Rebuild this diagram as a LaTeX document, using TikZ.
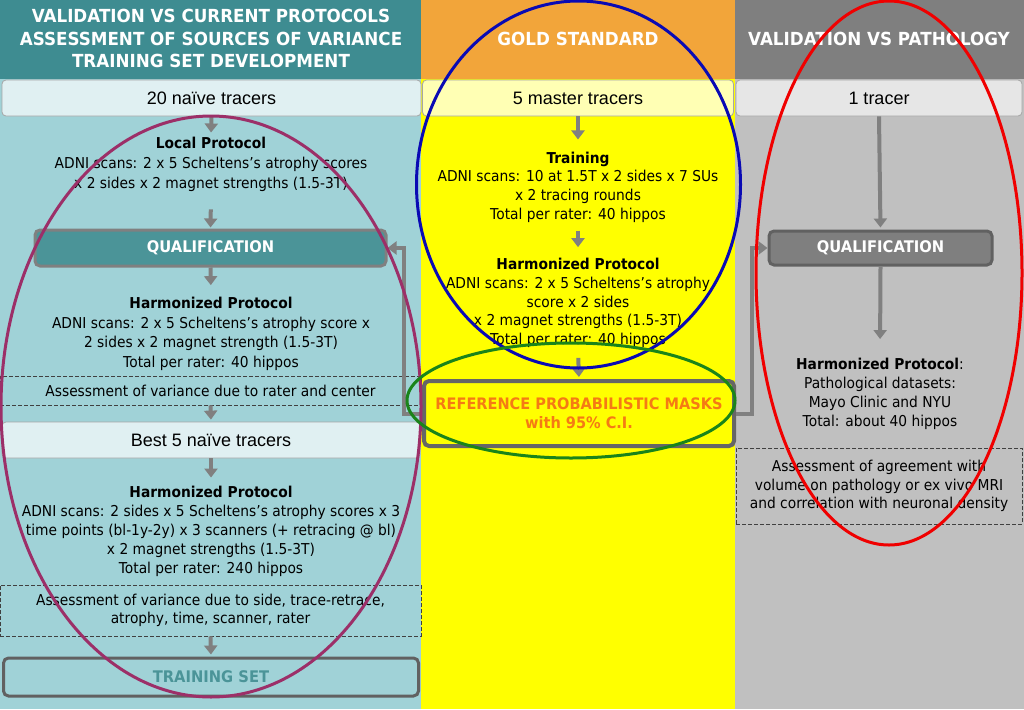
\documentclass[tikz,border=0pt]{standalone}
\usepackage{fontspec}
\setmainfont{DejaVu Sans}[FakeStretch=0.92]
\newfontfamily\hdrfont{DejaVu Sans}[FakeStretch=0.93]
\newfontfamily\arialf{Liberation Sans}
\usetikzlibrary{arrows.meta}
\definecolor{hdrL}{HTML}{3E8C91}
\definecolor{bodyL}{HTML}{A0D2D7}
\definecolor{barL}{HTML}{E0F0F2}
\definecolor{qualL}{HTML}{4B9498}
\definecolor{hdrM}{HTML}{F2A53A}
\definecolor{bodyM}{HTML}{FFFF00}
\definecolor{barM}{HTML}{FFFFB4}
\definecolor{hdrR}{HTML}{7F7F7F}
\definecolor{bodyR}{HTML}{C0C0C0}
\definecolor{barR}{HTML}{E6E6E6}
\definecolor{arrg}{HTML}{808080}
\definecolor{refor}{HTML}{F57A14}
\definecolor{ellP}{HTML}{9C2F68}
\definecolor{ellB}{HTML}{0A0AB4}
\definecolor{ellG}{HTML}{1A841A}
\definecolor{ellR}{HTML}{F00000}
\tikzset{
  hdr/.style={text=white, align=center, font={\hdrfont\bfseries\fontsize{18}{22.5}\selectfont}},
  bar/.style={draw=black!35, line width=0.8pt, rounded corners=4pt, font={\arialf\fontsize{18}{21}\selectfont}, inner sep=0pt},
  txt/.style={align=center, inner sep=3pt},
  dashbox/.style={draw=black!75, dashed, dash pattern=on 4pt off 2pt, line width=0.8pt, inner sep=0pt, align=center, font={\fontsize{15}{18.5}\selectfont}},
  qbox/.style={line width=3pt, rounded corners=5pt, text=white, font={\bfseries\fontsize{16}{18}\selectfont}, inner sep=0pt},
  arr/.style={draw=arrg, line width=4pt, -{Triangle[width=13pt,length=9pt]}},
  ell/.style={line width=3pt}
}
\begin{document}
\begin{tikzpicture}[x=1pt,y=-1pt]
\useasboundingbox (0,0) rectangle (1024,709);
% backgrounds
\fill[bodyL] (0,78) rectangle (421,709);
\fill[bodyM] (421,78) rectangle (735,709);
\fill[bodyR] (735,78) rectangle (1024,709);
\fill[hdrL] (0,0) rectangle (421,79);
\fill[hdrM] (421,0) rectangle (735,79);
\fill[hdrR] (735,0) rectangle (1024,79);
% headers
\node[hdr] (hL) at (211,38.5) {VALIDATION VS CURRENT PROTOCOLS\\ASSESSMENT OF SOURCES OF VARIANCE\\TRAINING SET DEVELOPMENT};
\node[hdr] (hM) at (578,38.5) {GOLD STANDARD};
\node[hdr] (hR) at (879,38.5) {VALIDATION VS PATHOLOGY};
% tracer bars
\node[bar, fill=barL, minimum width=419pt, minimum height=36pt] (tr20) at (211.5,98) {20 naïve tracers};
\node[bar, fill=barM, minimum width=311pt, minimum height=36pt] (tr5) at (578,98) {5 master tracers};
\node[bar, fill=barR, minimum width=286pt, minimum height=36pt] (tr1) at (879,98) {1 tracer};
% left column
\node[txt, font={\fontsize{15}{20}\selectfont}] (local) at (211,164) {\textbf{Local Protocol}\\ADNI scans: 2 x 5 Scheltens’s atrophy scores\\x 2 sides x 2 magnet strengths (1.5-3T)};
\node[qbox, draw=arrg, fill=qualL, minimum width=351pt, minimum height=36pt] (qualL) at (210.5,248) {QUALIFICATION};
\node[txt, font={\fontsize{15}{19.6}\selectfont}] (harm1) at (211,334) {\textbf{Harmonized Protocol}\\ADNI scans: 2 x 5 Scheltens’s atrophy score x\\2 sides x 2 magnet strength (1.5-3T)\\Total per rater: 40 hippos};
\node[dashbox, minimum width=421pt, minimum height=29pt] (ass1) at (210.5,390.5) {Assessment of variance due to rater and center};
\node[bar, fill=barL, minimum width=418pt, minimum height=36pt] (best5) at (211,440) {Best 5 naïve tracers};
\node[txt, font={\fontsize{15}{19}\selectfont}] (harm2) at (211,531) {\textbf{Harmonized Protocol}\\ADNI scans: 2 sides x 5 Scheltens’s atrophy scores x 3\\time points (bl-1y-2y) x 3 scanners (+ retracing @ bl)\\x 2 magnet strengths (1.5-3T)\\Total per rater: 240 hippos};
\node[dashbox, minimum width=421pt, minimum height=51pt] (ass2) at (210.5,610.5) {Assessment of variance due to side, trace-retrace,\\atrophy, time, scanner, rater};
\node[qbox, draw=black!62, fill=bodyL, text=qualL, minimum width=415pt, minimum height=38pt] (train) at (211,677) {TRAINING SET};
% middle column
\node[txt, font={\fontsize{15}{18.7}\selectfont}] (trn) at (578,187) {\textbf{Training}\\ADNI scans: 10 at 1.5T x 2 sides x 7 SUs\\x 2 tracing rounds\\Total per rater: 40 hippos};
\node[txt, font={\fontsize{15}{18.7}\selectfont}] (harmM) at (578,303) {\textbf{Harmonized Protocol}\\ADNI scans: 2 x 5 Scheltens’s atrophy\\score x 2 sides\\x 2 magnet strengths (1.5-3T)\\Total per rater: 40 hippos};
\node[qbox, draw=black!60, line width=4pt, fill=bodyM, text=refor, align=center, minimum width=310pt, minimum height=65pt, font={\bfseries\fontsize{15.8}{19}\selectfont}] (ref) at (579,413.5) {REFERENCE PROBABILISTIC MASKS\\with 95\% C.I.};
% right column
\node[qbox, draw=black!62, fill=hdrR, minimum width=223pt, minimum height=34pt] (qualR) at (880.5,248) {QUALIFICATION};
\node[txt, font={\fontsize{15}{19}\selectfont}] (harmR) at (880,394) {\textbf{Harmonized Protocol}:\\Pathological datasets:\\Mayo Clinic and NYU\\Total: about 40 hippos};
\node[dashbox, minimum width=286pt, minimum height=76pt] (assR) at (879,486) {Assessment of agreement with\\volume on pathology or ex vivo MRI\\and correlation with neuronal density};
% arrows
\draw[arr, shorten >=1pt] (tr20.south) -- (local.north);
\draw[arr, shorten <=15pt, shorten >=1pt] (local.south) -- (qualL.north);
\draw[arr, shorten >=9pt] (qualL.south) -- (harm1.north);
\draw[arr, shorten >=2pt] (ass1.south) -- (best5.north);
\draw[arr, shorten >=5pt] (best5.south) -- (harm2.north);
\draw[arr, shorten >=2pt] (ass2.south) -- (train.north);
\draw[arr, shorten >=9pt] (tr5.south) -- (trn.north);
\draw[arr, shorten <=5pt, shorten >=8pt] (trn.south) -- (harmM.north);
\draw[arr, shorten <=7pt, shorten >=2pt] (harmM.south) -- (ref.north);
\draw[arr, shorten >=2pt] (tr1.south) -- (qualR.north);
\draw[arr, shorten >=16pt] (qualR.south) -- (harmR.north);
% feedback connectors
\draw[arr, line join=miter] (ref.west) -| ([xshift=16pt]qualL.east) -- (qualL.east);
\draw[arr, line join=miter] (ref.east) -| ([xshift=-16pt]qualR.west) -- (qualR.west);
% ellipses
\draw[ell, ellP] (211,406.5) ellipse [x radius=210pt, y radius=290.5pt];
\draw[ell, ellB] (578.5,184.5) ellipse [x radius=162pt, y radius=183.5pt];
\draw[ell, ellG] (571,400.5) ellipse [x radius=164pt, y radius=57.5pt];
\draw[ell, ellR] (889,273) ellipse [x radius=133pt, y radius=272pt];
\end{tikzpicture}
\end{document}
